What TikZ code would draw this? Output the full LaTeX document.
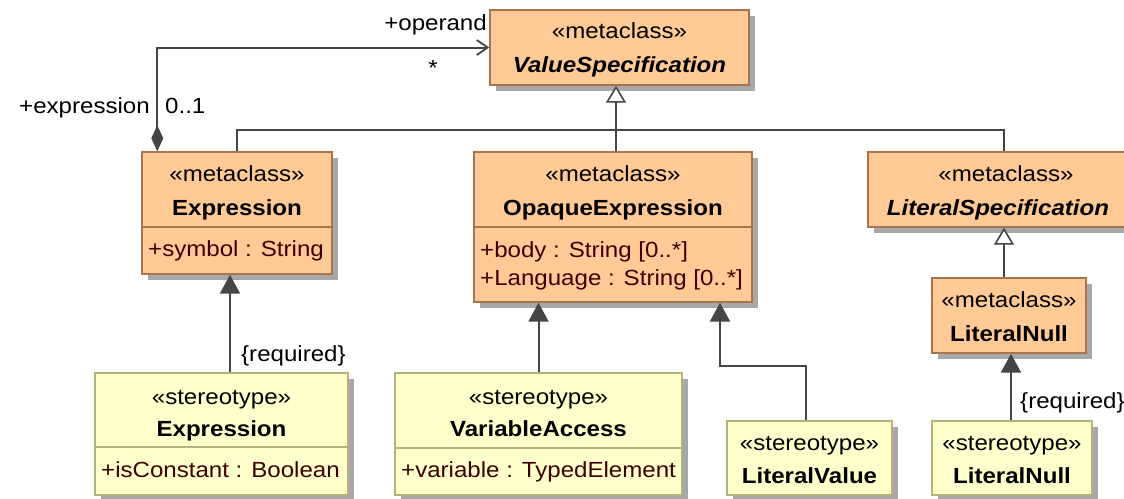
\documentclass[tikz,border=0pt]{standalone}
\usepackage{fontspec}
\setmainfont{Liberation Sans}[FakeStretch=1.10]
\usetikzlibrary{arrows.meta,shadows}

\definecolor{metafill}{HTML}{FFCA96}
\definecolor{metaline}{HTML}{A57550}
\definecolor{stfill}{HTML}{FFFFCC}
\definecolor{stline}{HTML}{B2B27A}
\definecolor{shade}{HTML}{A8A8A8}
\definecolor{linecol}{HTML}{454545}
\definecolor{attrcol}{HTML}{3C0000}

\tikzset{
  boxbase/.style={rectangle, inner sep=0pt, line width=1.4pt,
    drop shadow={shadow xshift=6pt, shadow yshift=-6pt, fill=shade, opacity=1}},
  metabox/.style={boxbase, draw=metaline, fill=metafill},
  stbox/.style={boxbase, draw=stline, fill=stfill},
  txt/.style={inner sep=0pt, font=\fontsize{21.9pt}{26pt}\selectfont},
  kindtxt/.style={txt, anchor=base},
  clsname/.style={txt, anchor=base, font=\fontsize{21.9pt}{26pt}\selectfont\bfseries},
  absname/.style={txt, anchor=base, font=\fontsize{21.9pt}{26pt}\selectfont\bfseries\itshape},
  attrtxt/.style={txt, anchor=base west, text=attrcol},
  conn/.style={draw=linecol, line width=2pt},
  gen/.style={conn, -{Triangle[open, length=17pt, width=20pt, fill=white, line width=1.6pt]}},
  dep/.style={conn, -{Triangle[length=19pt, width=20pt, fill=linecol]}},
}

% class box: name, style, x1, y1, x2, y2
\newcommand\umlbox[6]{%
  \node[#2, minimum width=#5pt-#3pt, minimum height=#6pt-#4pt] (#1)
    at ({(#3+#5)/2},{(#4+#6)/2}) {};}

\begin{document}
\begin{tikzpicture}[x=1pt, y=-1pt]
\useasboundingbox (0,0) rectangle (1124,498);

% metaclasses
\umlbox{vs}{metabox}{490}{10}{749}{85}
\umlbox{expr}{metabox}{142}{152}{332}{274}
\umlbox{opq}{metabox}{474}{152}{752}{302}
\umlbox{lspec}{metabox}{868}{152}{1140}{227}
\umlbox{lnull}{metabox}{932}{278}{1086}{353}

% stereotypes
\umlbox{sexpr}{stbox}{95}{373}{348}{495}
\umlbox{var}{stbox}{395}{373}{682}{495}
\umlbox{lval}{stbox}{727}{421}{892}{495}
\umlbox{slnull}{stbox}{932}{421}{1092}{495}

% compartment dividers
\draw[metaline, line width=1.4pt] (expr.west |- 0,227) -- (expr.east |- 0,227);
\draw[metaline, line width=1.4pt] (opq.west |- 0,227) -- (opq.east |- 0,227);
\draw[stline, line width=1.4pt] (sexpr.west |- 0,447) -- (sexpr.east |- 0,447);
\draw[stline, line width=1.4pt] (var.west |- 0,448) -- (var.east |- 0,448);

% box texts
\node[kindtxt] (vs-st) at (619.5,38) {«metaclass»};
\node[absname] (vs-nm) at (619.5,72) {ValueSpecification};

\node[kindtxt] (expr-st) at (237,181) {«metaclass»};
\node[clsname] (expr-nm) at (237,215) {Expression};
\node[attrtxt] (expr-a1) at (148,256) {+symbol : String};

\node[kindtxt] (opq-st) at (613,181) {«metaclass»};
\node[clsname] (opq-nm) at (613,215) {OpaqueExpression};
\node[attrtxt] (opq-a1) at (480,257) {+body : String [0..*]};
\node[attrtxt] (opq-a2) at (480,285) {+Language : String [0..*]};

\node[kindtxt] (lspec-st) at (1006,181) {«metaclass»};
\node[absname] (lspec-nm) at (998,215) {LiteralSpecification};

\node[kindtxt] (lnull-st) at (1009,307) {«metaclass»};
\node[clsname] (lnull-nm) at (1009,341) {LiteralNull};

\node[kindtxt] (sexpr-st) at (221.5,404) {«stereotype»};
\node[clsname] (sexpr-nm) at (221.5,436) {Expression};
\node[attrtxt] (sexpr-a1) at (101,477) {+isConstant : Boolean};

\node[kindtxt] (var-st) at (538.5,404) {«stereotype»};
\node[clsname] (var-nm) at (538.5,436) {VariableAccess};
\node[attrtxt] (var-a1) at (401,477) {+variable : TypedElement};

\node[kindtxt] (lval-st) at (809.5,450) {«stereotype»};
\node[clsname] (lval-nm) at (809.5,483) {LiteralValue};

\node[kindtxt] (slnull-st) at (1012,450) {«stereotype»};
\node[clsname] (slnull-nm) at (1012,483) {LiteralNull};

% composition Expression -> ValueSpecification (operand)
\draw[conn, {Diamond[length=26pt, width=12pt, fill=linecol]}-{Straight Barb[length=11pt, width=15pt, line width=1.8pt]}]
  ([xshift=16pt]expr.north west) |- (vs.west);
\node[txt, anchor=base east] (l-operand) at (487,30) {+operand};
\node[txt, anchor=base] (l-star) at (433,75) {*};
\node[txt, anchor=base east] (l-expr) at (150,113) {+expression};
\node[txt, anchor=base west] (l-mult) at (165,113) {0..1};

% generalization tree under ValueSpecification
\coordinate (bus) at (616,130);
\draw[gen] (bus) -- (bus |- vs.south);
\draw[conn] (expr.north) |- (bus) -| (lspec.north);
\draw[conn] (bus) -- (opq.north -| bus);

% LiteralNull specializes LiteralSpecification
\draw[gen] (lnull.north -| lspec.south) -- (lspec.south);

% stereotype extensions
\draw[dep] ([xshift=8.5pt]sexpr.north) -- ([xshift=8.5pt]sexpr.north |- expr.south);
\node[txt, anchor=base west] (l-req1) at (241,361) {\{required\}};

\draw[dep] (var.north) -- (var.north |- opq.south);

\coordinate (lvbend) at (720,366);
\draw[dep] ([xshift=-3.5pt]lval.north) |- (lvbend) -- (lvbend |- opq.south);

\draw[dep] ([xshift=-1pt]slnull.north) -- ([xshift=-1pt]slnull.north |- lnull.south);
\node[txt, anchor=base west] (l-req2) at (1020,408) {\{required\}};
\end{tikzpicture}
\end{document}
